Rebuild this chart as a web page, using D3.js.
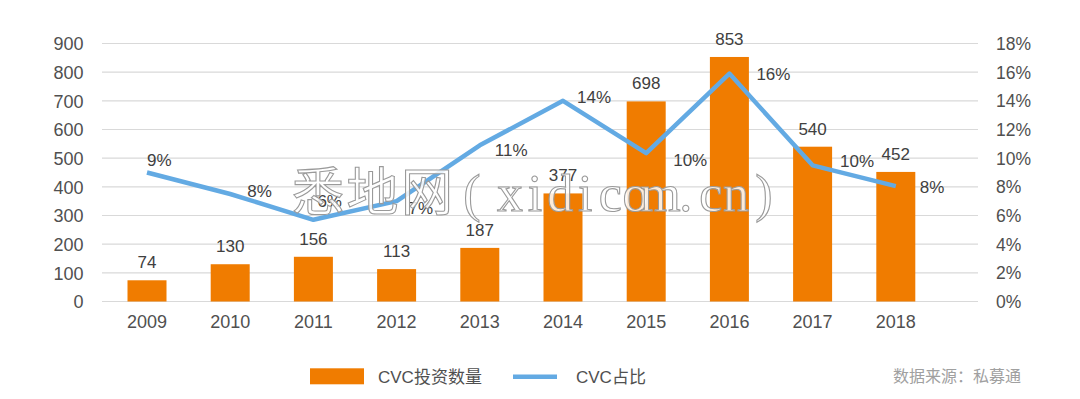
<!DOCTYPE html>
<html>
<head>
<meta charset="utf-8">
<script src="https://cdn.jsdelivr.net/npm/d3@7"></script>
<style>
  html, body { margin: 0; padding: 0; background: #fff; }
  svg { display: block; }
</style>
</head>
<body>
<svg id="chart" width="1080" height="399"></svg>
<script>
// ---- data ----
const years = ['2009','2010','2011','2012','2013','2014','2015','2016','2017','2018'];
const counts = [74, 130, 156, 113, 187, 377, 698, 853, 540, 452];
const shares = [9.0, 7.5, 5.7, 7.0, 10.9, 14.0, 10.35, 15.9, 9.5, 8.05];
const shareLabels = ['9%','8%','6%','7%','11%','14%','10%','16%','10%','8%'];
const leftTicks = [0, 100, 200, 300, 400, 500, 600, 700, 800, 900];
const rightTicks = [0, 2, 4, 6, 8, 10, 12, 14, 16, 18];
const legendNames = ['CVC投资数量', 'CVC占比'];
const sourceText = '数据来源：私募通';
const watermarkText = '悉地网(xidicom.cn)';

// label placement (layout only)
const pctLabelOffsets = [[0,-6.7],[17,3],[4,-13],[12,13],[15,11],[14,2.4],[27,13],[27,6],[27.5,2],[24,7]];

// ---- layout ----
const gridX0 = 102, gridX1 = 978;
const yTop = 43.5, yBottom = 301.5;
const barColor = '#F07C00';
const lineColor = '#63AAE3';
const textColor = '#404040';
const font = 'Liberation Sans, Arial, "Noto Sans CJK SC", sans-serif';

const svg = d3.select('#chart');

const pIn = 1 - 39 / 83.2;
const x = d3.scaleBand().domain(years).range([105.4, 937.4])
  .paddingInner(pIn).paddingOuter(pIn / 2);
const cx = d => x(d) + x.bandwidth() / 2;
const yL = d3.scaleLinear().domain([0, 900]).range([yBottom, yTop]);
const yR = d3.scaleLinear().domain([0, 18]).range([yBottom, yTop]);

// gridlines
svg.append('g').selectAll('line').data(leftTicks).join('line')
  .attr('x1', gridX0).attr('x2', gridX1)
  .attr('y1', d => yL(d)).attr('y2', d => yL(d))
  .attr('stroke', '#D9D9D9').attr('stroke-width', 1.2);

// left axis
const axL = d3.axisLeft(yL).tickValues(leftTicks).tickSize(0).tickPadding(0);
const gL = svg.append('g').attr('transform', 'translate(83.5,0)').call(axL);
gL.select('.domain').remove();
gL.selectAll('text').attr('font-family', font).attr('font-size', 18)
  .attr('fill', '#505050').attr('dy', '0.35em');

// right axis
const axR = d3.axisRight(yR).tickValues(rightTicks).tickSize(0).tickPadding(0)
  .tickFormat(d => d + '%');
const gR = svg.append('g').attr('transform', 'translate(996,0)').call(axR);
gR.select('.domain').remove();
gR.selectAll('text').attr('font-family', font).attr('font-size', 17.5)
  .attr('fill', '#505050').attr('dy', '0.35em');

// x axis
const axX = d3.axisBottom(x).tickSize(0).tickPadding(0);
const gX = svg.append('g').attr('transform', 'translate(0,315)').call(axX);
gX.select('.domain').remove();
gX.selectAll('text').attr('font-family', font).attr('font-size', 18)
  .attr('fill', '#505050').attr('dy', '0.72em');

// bars
svg.append('g').selectAll('rect').data(years).join('rect')
  .attr('x', d => x(d)).attr('width', x.bandwidth())
  .attr('y', (d, i) => yL(counts[i]))
  .attr('height', (d, i) => yBottom - yL(counts[i]))
  .attr('fill', barColor);

// bar labels
svg.append('g').selectAll('text').data(years).join('text')
  .attr('x', d => cx(d)).attr('y', (d, i) => yL(counts[i]) - 12)
  .attr('text-anchor', 'middle')
  .attr('font-family', font).attr('font-size', 17).attr('fill', textColor)
  .text((d, i) => counts[i]);

// line
const line = d3.line().x((d, i) => cx(years[i])).y(d => yR(d));
svg.append('path').datum(shares).attr('d', line)
  .attr('fill', 'none').attr('stroke', lineColor).attr('stroke-width', 4.5)
  .attr('stroke-linejoin', 'round').attr('stroke-linecap', 'butt');

// percent labels
svg.append('g').selectAll('text').data(years).join('text')
  .attr('x', (d, i) => cx(d) + pctLabelOffsets[i][0])
  .attr('y', (d, i) => yR(shares[i]) + pctLabelOffsets[i][1])
  .attr('font-family', font).attr('font-size', 17).attr('fill', textColor)
  .text((d, i) => shareLabels[i]);

// watermark: glyph centres (CJK full width, latin half width)
const wmChars = Array.from(watermarkText);
const wmX = [];
wmChars.forEach((c, i) => {
  if (i < 3) wmX.push(318 + i * 54.5);
  else if (c === '(') wmX.push(472);
  else if (c === ')') wmX.push(764);
  else wmX.push(510 + (i - 4) * 25.1);
});
svg.append('text')
  .attr('x', wmX.join(' ')).attr('y', 211)
  .attr('text-anchor', 'middle')
  .attr('font-family', '"Liberation Serif", "DejaVu Serif", "Noto Sans CJK SC", serif')
  .attr('font-size', 52)
  .attr('fill', '#ffffff').attr('fill-opacity', 0.85)
  .attr('stroke', '#9a9a9a').attr('stroke-width', 1.1)
  .text(watermarkText);

// legend
const lg = svg.append('g');
lg.append('rect').attr('x', 310).attr('y', 368.3).attr('width', 54).attr('height', 16)
  .attr('fill', barColor);
lg.append('text').attr('x', 378).attr('y', 376.7).attr('dy', '0.35em')
  .attr('font-family', font).attr('font-size', 17).attr('fill', '#505050')
  .text(legendNames[0]);
lg.append('line').attr('x1', 513).attr('x2', 557).attr('y1', 376.7).attr('y2', 376.7)
  .attr('stroke', lineColor).attr('stroke-width', 4.5);
lg.append('text').attr('x', 576).attr('y', 376.7).attr('dy', '0.35em')
  .attr('font-family', font).attr('font-size', 17).attr('fill', '#505050')
  .text(legendNames[1]);

svg.append('text').attr('x', 893).attr('y', 376.7).attr('dy', '0.35em')
  .attr('font-family', font).attr('font-size', 16).attr('fill', '#A0A0A0')
  .text(sourceText);
</script>
</body>
</html>
